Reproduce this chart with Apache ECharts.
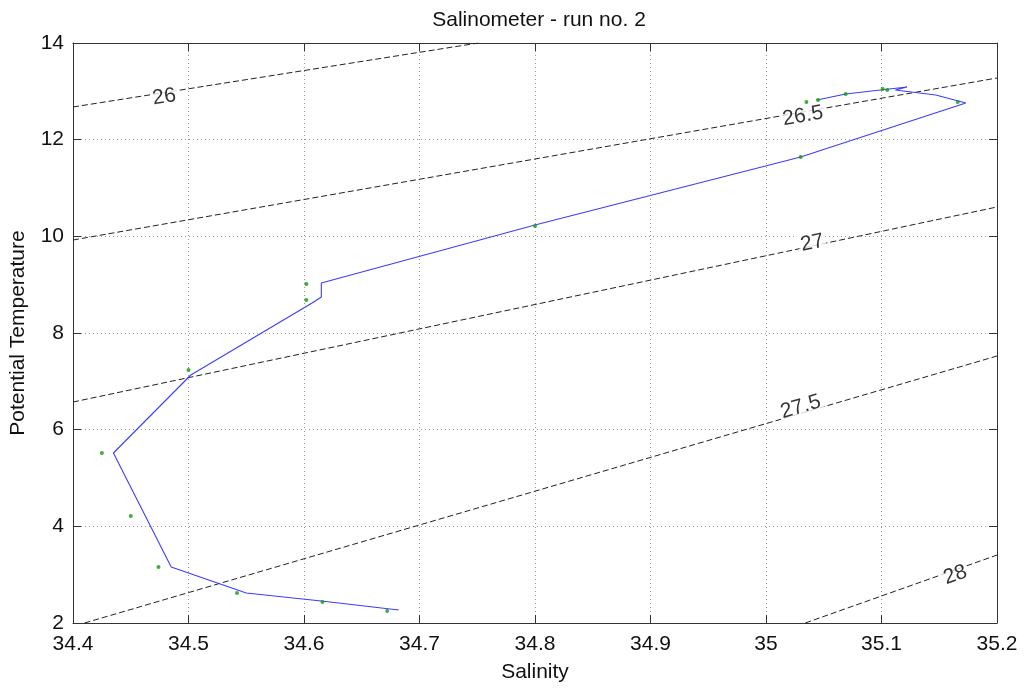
<!DOCTYPE html>
<html>
<head>
<meta charset="utf-8">
<script src="https://cdn.jsdelivr.net/npm/echarts@6/dist/echarts.min.js"></script>
<style>
  html, body { margin: 0; padding: 0; background: #fff; }
  #chart { width: 1024px; height: 689px; }
</style>
</head>
<body>
<div id="chart"></div>
<script>
// CTD profile: salinity / potential temperature, from deep to surface
const profileSalinity = [34.682, 34.615, 34.550, 34.485, 34.435, 34.502, 34.607, 34.615, 34.615, 34.800, 35.030, 35.173, 35.147, 35.112, 35.122, 35.099, 35.069, 35.044];
const profileTemp     = [2.269, 2.455, 2.620, 3.158, 5.517, 7.131, 8.620, 8.744, 9.034, 10.234, 11.641, 12.759, 12.924, 13.028, 13.090, 13.028, 12.945, 12.821];

// Bottle samples measured with the salinometer
const sampleSalinity = [35.035, 35.045, 35.069, 35.101, 35.105, 35.166, 35.030, 34.800, 34.602, 34.602, 34.500, 34.425, 34.450, 34.474, 34.542, 34.616, 34.672];
const sampleTemp     = [12.779, 12.821, 12.945, 13.048, 13.028, 12.779, 11.641, 10.213, 9.013, 8.682, 7.234, 5.517, 4.213, 3.158, 2.620, 2.434, 2.248];

// Density (sigma-theta) contours: level, two end points, label position
const contourLevels = ['26', '26.5', '27', '27.5', '28'];
const contourStartS = [34.400, 34.400, 34.400, 34.410, 35.034];
const contourStartT = [12.676, 9.924, 6.572, 2.000, 2.000];
const contourEndS   = [34.751, 35.200, 35.200, 35.200, 35.200];
const contourEndT   = [14.000, 13.276, 10.607, 7.524, 3.406];
const labelS        = [34.479, 35.032, 35.040, 35.030, 35.164];
const labelT        = [12.883, 12.490, 9.862, 6.469, 2.993];

// Axis ticks
const xMin = 34.4, xMax = 35.2, xStep = 0.1;
const yMin = 2, yMax = 14, yStep = 2;

const FONT = '"Liberation Sans", Arial, sans-serif';
const profile = profileSalinity.map((s, i) => [s, profileTemp[i]]);
const samples = sampleSalinity.map((s, i) => [s, sampleTemp[i]]);

const contourSeries = contourLevels.map((lv, i) => ({
  type: 'line',
  name: 'sigma ' + lv,
  data: [[contourStartS[i], contourStartT[i]], [contourEndS[i], contourEndT[i]]],
  symbol: 'none',
  silent: true,
  z: 2,
  lineStyle: { color: '#222', width: 1, type: [6, 3] }
}));

const axisCommon = {
  axisLine: { show: true, onZero: false, lineStyle: { color: '#333', width: 1 } },
  axisTick: { show: true, inside: true, length: 8, lineStyle: { color: '#333' } },
  axisLabel: { color: '#111', fontFamily: FONT, fontSize: 21 },
  splitLine: { show: false }
};

const option = {
  animation: false,
  backgroundColor: '#fff',
  title: {
    text: 'Salinometer - run no. 2',
    left: 534,
    textAlign: 'center',
    top: 5,
    textStyle: { fontFamily: FONT, fontSize: 21, fontWeight: 'normal', color: '#111' }
  },
  grid: { left: 72, right: 27, top: 43, bottom: 66 },
  xAxis: [
    Object.assign({}, axisCommon, {
      type: 'value', min: xMin, max: xMax, interval: xStep, position: 'bottom',
      name: 'Salinity', nameLocation: 'middle', nameGap: 39,
      nameTextStyle: { fontFamily: FONT, fontSize: 21, color: '#111' },
      axisLabel: Object.assign({}, axisCommon.axisLabel, { margin: 11 }),
      splitLine: { show: true, lineStyle: { color: '#999', type: [1, 3], width: 1 } }
    }),
    Object.assign({}, axisCommon, {
      type: 'value', min: xMin, max: xMax, interval: xStep, position: 'top',
      axisLabel: { show: false }
    })
  ],
  yAxis: [
    Object.assign({}, axisCommon, {
      type: 'value', min: yMin, max: yMax, interval: yStep, position: 'left',
      name: 'Potential Temperature', nameLocation: 'middle', nameGap: 44, nameRotate: 90,
      nameTextStyle: { fontFamily: FONT, fontSize: 21, color: '#111' },
      axisLabel: Object.assign({}, axisCommon.axisLabel, { margin: 9 }),
      splitLine: { show: true, lineStyle: { color: '#999', type: [1, 3], width: 1 } }
    }),
    Object.assign({}, axisCommon, {
      type: 'value', min: yMin, max: yMax, interval: yStep, position: 'right',
      axisLabel: { show: false }
    })
  ],
  series: contourSeries.concat([
    {
      id: 'contourLabels',
      type: 'scatter',
      symbolSize: 0,
      silent: true,
      z: 3,
      data: contourLevels.map((lv, i) => ({ name: lv, value: [labelS[i], labelT[i]] })),
      label: {
        show: true, position: 'inside', formatter: '{b}',
        fontFamily: FONT, fontSize: 21, color: '#000',
        backgroundColor: '#fff', padding: [0, 2]
      }
    },
    {
      type: 'line',
      name: 'CTD',
      data: profile,
      symbol: 'none',
      z: 4,
      lineStyle: { color: '#3d3dff', width: 1.1 }
    },
    {
      type: 'scatter',
      name: 'Salinometer',
      data: samples,
      symbol: 'circle',
      symbolSize: 4,
      z: 5,
      itemStyle: { color: '#119911' }
    }
  ])
};

const chart = echarts.init(document.getElementById('chart'), null, { renderer: 'canvas' });
chart.setOption(option);

// Rotate each contour label so it follows its line on screen
const rotated = contourLevels.map((lv, i) => {
  const p0 = chart.convertToPixel({ gridIndex: 0 }, [contourStartS[i], contourStartT[i]]);
  const p1 = chart.convertToPixel({ gridIndex: 0 }, [contourEndS[i], contourEndT[i]]);
  const ang = Math.atan2(-(p1[1] - p0[1]), p1[0] - p0[0]) * 180 / Math.PI;
  return { name: lv, value: [labelS[i], labelT[i]], label: { rotate: ang } };
});
chart.setOption({ series: [{ id: 'contourLabels', data: rotated }] });
</script>
</body>
</html>
